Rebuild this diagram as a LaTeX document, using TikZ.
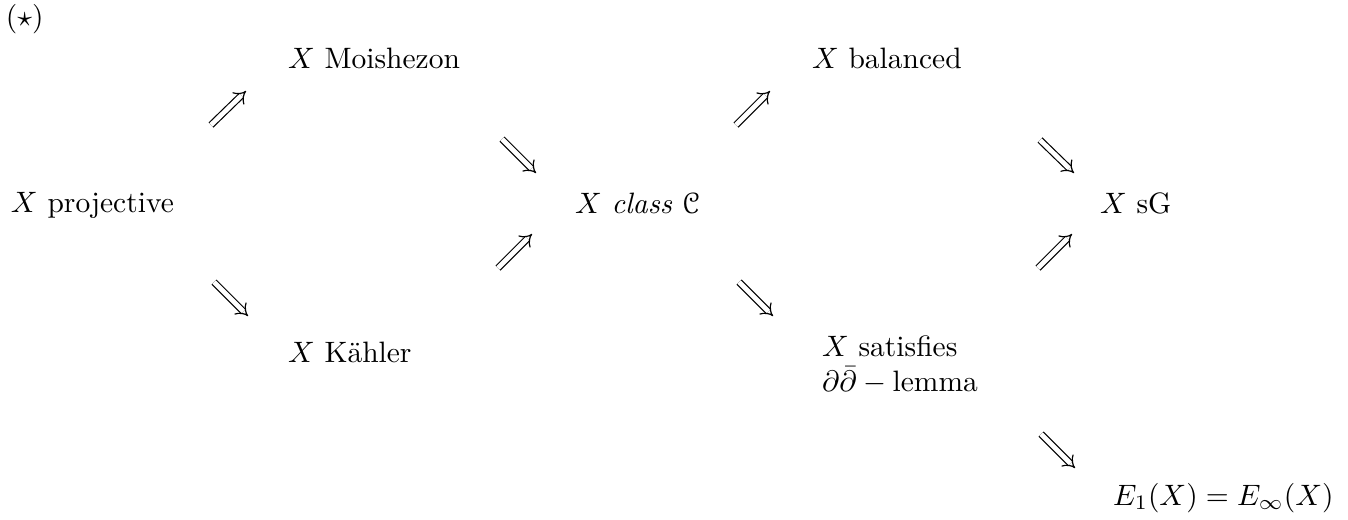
\documentclass[tikz,border=0pt]{standalone}
\usepackage{amsmath,amssymb}
\usepackage[mathcal]{eucal}
\usetikzlibrary{arrows.meta}
\tikzset{
  lbl/.style={anchor=base west, inner sep=0pt, outer sep=0pt},
  impl/.style={double, double distance=1.6pt, line width=0.4pt, -{Implies}},
}
\begin{document}
\begin{tikzpicture}[x=0.339pt, y=-0.339pt]
\useasboundingbox (0,0) rectangle (1348,519);
\node[lbl] (star) at (6,26) {$(\star)$};
\node[lbl] (proj) at (11,212) {$X$ projective};
\node[lbl] (mois) at (288,68) {$X$ Moishezon};
\node[lbl] (kahl) at (288,362) {$X$ K\"ahler};
\node[lbl] (cls) at (575,213) {$X$ \textit{class} $\mathcal{C}$};
\node[lbl] (bal) at (812,68) {$X$ balanced};
\node[anchor=north west, inner sep=0pt, outer sep=0pt, align=left] (sat) at (822,335.5)
  {$X$ satisfies\\ $\partial\bar\partial-\text{lemma}$};
\node[lbl] (sg) at (1100,213) {$X$ sG};
\node[lbl] (eq) at (1113,505) {$E_1(X)=E_\infty(X)$};
% arrow endpoints
\coordinate (a1s) at (211,125); \coordinate (a1e) at (246,91);
\coordinate (a2s) at (214,282); \coordinate (a2e) at (248,316);
\coordinate (a3s) at (502,139); \coordinate (a3e) at (536,173);
\coordinate (a4s) at (498,268); \coordinate (a4e) at (532,234);
\coordinate (a5s) at (736,125); \coordinate (a5e) at (770,91);
\coordinate (a6s) at (739,282); \coordinate (a6e) at (773,316);
\coordinate (a7s) at (1040,140); \coordinate (a7e) at (1074,173);
\coordinate (a8s) at (1038,268); \coordinate (a8e) at (1072,234);
\coordinate (a9s) at (1041,434); \coordinate (a9e) at (1075,468);
\foreach \i in {1,...,9} {\draw[impl] (a\i s) -- (a\i e);}
\end{tikzpicture}
\end{document}
